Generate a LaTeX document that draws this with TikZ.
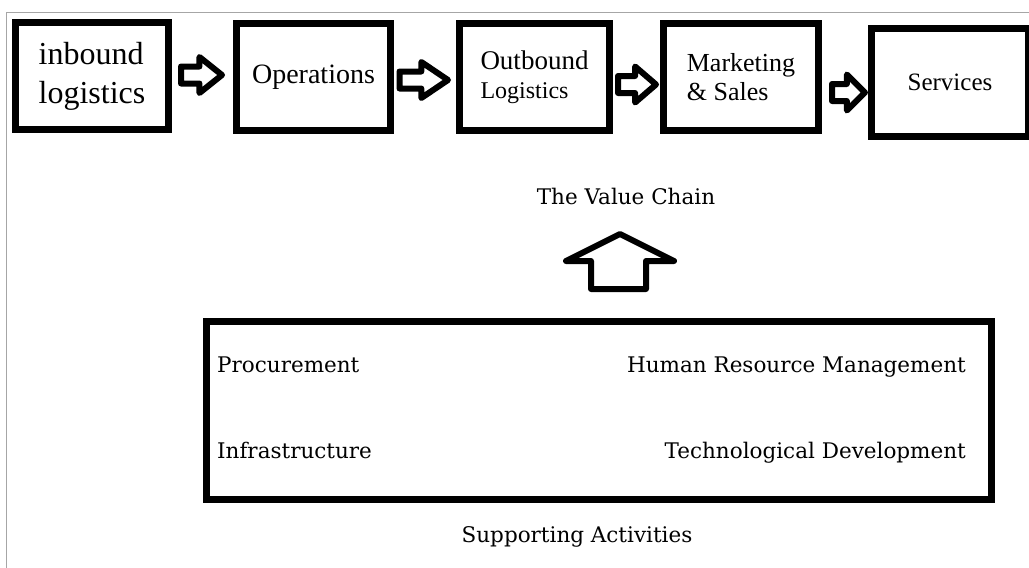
\documentclass[tikz,border=0pt]{standalone}
\usepackage{fontspec}
\setmainfont{Liberation Serif}
\newfontfamily\oldstyle{DejaVu Serif}
\usetikzlibrary{calc}

% fat outlined arrow between two boxes: from, to, gap at tail, gap at tip, centre y
\newcommand{\blockarrow}[5]{%
  \draw[fat arrow] let \p1=(#1.east), \p2=(#2.west),
    \n1={\x1+#3pt+3pt}, \n2={\x2-#4pt-3pt}, \n3={\n1+0.45*(\n2-\n1)} in
    (\n1,#5+8.5) -- (\n3,#5+8.5) -- (\n3,#5+18) -- (\n2,#5)
    -- (\n3,#5-18) -- (\n3,#5-8.5) -- (\n1,#5-8.5) -- cycle;}

\begin{document}
\begin{tikzpicture}[x=1pt,y=1pt]
\tikzstyle{box}=[draw,line width=7pt,inner sep=0pt,minimum height=107pt]
\tikzstyle{fat arrow}=[draw,line width=6pt,line join=round,fill=white]
\tikzstyle{txt}=[inner sep=0pt,font=\oldstyle\fontsize{21.5}{26}\selectfont]
\useasboundingbox (0,0) rectangle (1029,-568);
\draw[gray!70,line width=1.5pt] (6.5,-568) -- (6.5,-12.5) -- (1029,-12.5);

% primary activities
\node[box,minimum width=153pt,align=left,font=\fontsize{32}{39}\selectfont] (inb) at (92,-76) {inbound\\logistics};
\node[box,minimum width=154pt,font=\fontsize{28}{34}\selectfont] (ops) at (313.5,-77) {Operations};
\node[box,minimum width=150pt,align=left,font=\fontsize{27}{29}\selectfont] (outb) at (534.5,-77) {Outbound\\{\fontsize{24}{29}\selectfont Logistics}};
\node[box,minimum width=155pt,align=left,font=\fontsize{26}{29}\selectfont] (mkt) at (741,-77) {Marketing\\\& Sales};
\node[box,minimum width=157pt,minimum height=108pt,font=\fontsize{25}{30}\selectfont] (serv) at (950,-82.5) {Services};

\blockarrow{inb}{ops}{6}{8}{-75}
\blockarrow{ops}{outb}{2.5}{5}{-80}
\blockarrow{outb}{mkt}{2}{1}{-84.5}
\blockarrow{mkt}{serv}{7}{0}{-92.5}

\node[txt,anchor=base] (chain) at (626,-204) {The Value Chain};

% support activities
\node[box,minimum width=785pt,minimum height=178pt] (sup) at (599,-410.5) {};
\node[txt,anchor=base west] (proc) at (217,-372) {Procurement};
\node[txt,anchor=base east] (hrm) at (966,-372) {Human Resource Management};
\node[txt,anchor=base west] (infra) at (217,-458) {Infrastructure};
\node[txt,anchor=base east] (tech) at (966,-458) {Technological Development};
\node[txt,anchor=base] (suplab) at (577,-542) {Supporting Activities};

\draw[fat arrow] (591,-289) -- (591,-261) -- (566,-261) -- (620,-234)
  -- (674,-261) -- (646,-261) -- (646,-289) -- cycle;
\end{tikzpicture}
\end{document}
